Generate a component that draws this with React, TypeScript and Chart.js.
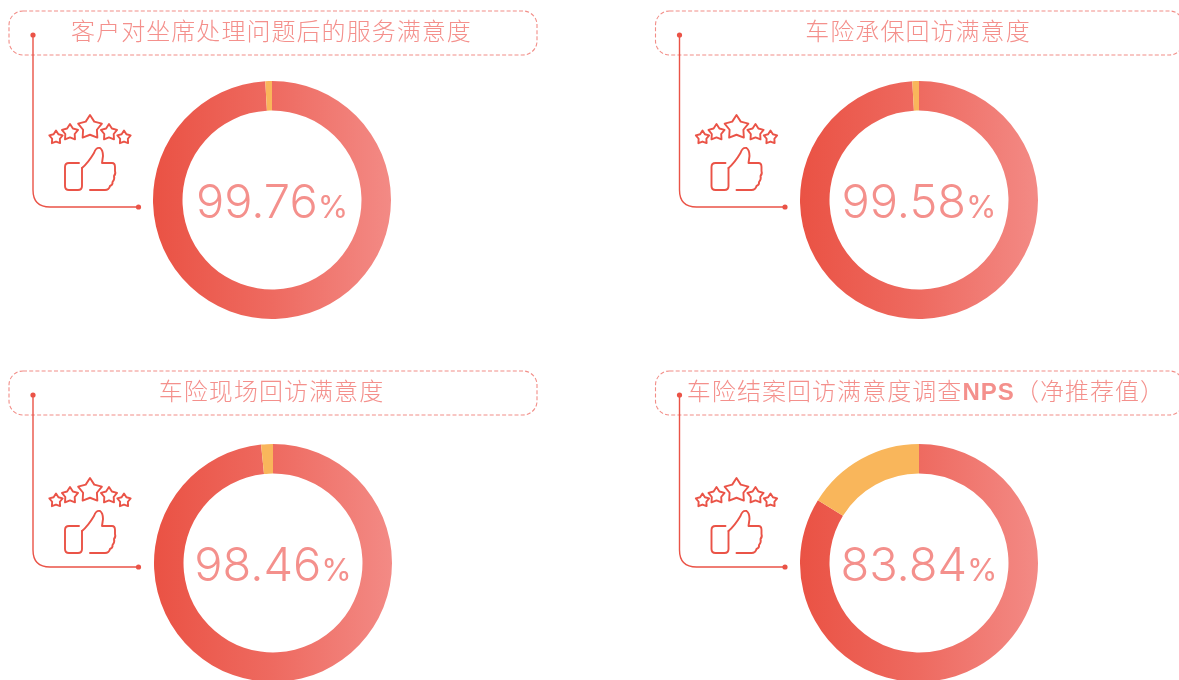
import React, { useEffect, useRef } from "react";
import { Chart, registerables } from "chart.js";

Chart.register(...registerables);

const titles = [
  "客户对坐席处理问题后的服务满意度",
  "车险承保回访满意度",
  "车险现场回访满意度",
  "车险结案回访满意度调查NPS（净推荐值）",
];
const percentLabels = ["99.76", "99.58", "98.46", "83.84"];
// Slice shares as drawn in the picture (small slices are drawn wider than their true share).
const redShare = [99.1, 99.1, 98.4, 83.84];
const orangeShare = [0.9, 0.9, 1.6, 16.16];

const panels = [
  { boxX: 0, boxY: 0, cx: 272, cy: 200, iconDx: 0, iconDy: 0, titleCx: 271.5 },
  { boxX: 646.5, boxY: 0, cx: 919, cy: 200, iconDx: 646.5, iconDy: 0, titleCx: 918 },
  { boxX: 0, boxY: 360, cx: 273, cy: 563, iconDx: 0, iconDy: 363, titleCx: 271.5 },
  { boxX: 646.5, boxY: 360, cx: 919, cy: 563, iconDx: 646.5, iconDy: 363, titleCx: 926 },
];

const RED = "#EA5347";
const PINK = "#F4908C";
const R = 119;

function Donut({ red, orange }: { red: number; orange: number }) {
  const ref = useRef<HTMLCanvasElement>(null);
  useEffect(() => {
    const chart = new Chart(ref.current!, {
      type: "doughnut",
      data: {
        labels: ["满意", "其他"],
        datasets: [
          {
            data: [red, orange],
            borderWidth: 0,
            backgroundColor: (c: any) => {
              if (c.dataIndex === 1) return "#F9B65B";
              const area = c.chart.chartArea;
              if (!area) return RED;
              const g = c.chart.ctx.createLinearGradient(area.left, 0, area.right, 0);
              g.addColorStop(0, "#EA5244");
              g.addColorStop(0.5, "#EE6A60");
              g.addColorStop(1, "#F38A85");
              return g;
            },
          },
        ],
      },
      options: {
        animation: false,
        responsive: false,
        devicePixelRatio: 1,
        cutout: "75.2%",
        layout: { padding: 0 },
        plugins: { legend: { display: false }, tooltip: { enabled: false } },
      },
    });
    return () => chart.destroy();
  }, [red, orange]);
  return <canvas ref={ref} width={R * 2} height={R * 2} style={{ display: "block", width: R * 2, height: R * 2 }} />;
}

function starPath(cx: number, cy: number, r: number) {
  const pts: string[] = [];
  for (let i = 0; i < 10; i++) {
    const a = -Math.PI / 2 + (i * Math.PI) / 5;
    const rr = i % 2 === 0 ? r : r * 0.58;
    pts.push(`${(cx + rr * Math.cos(a)).toFixed(2)},${(cy + rr * Math.sin(a)).toFixed(2)}`);
  }
  return "M" + pts.join("L") + "Z";
}

const stars = [
  [56, 137.5, 7],
  [70, 132.5, 8.5],
  [90, 127.5, 12.5],
  [109, 132.5, 8.5],
  [124, 137.5, 7],
];

function Icon({ dx, dy }: { dx: number; dy: number }) {
  return (
    <g transform={`translate(${dx} ${dy})`} fill="none" stroke={RED} strokeWidth={1.9} strokeLinejoin="round" strokeLinecap="round">
      {stars.map((s, i) => (
        <path key={i} d={starPath(s[0], s[1], s[2])} />
      ))}
      <path d="M79,163 L69,163 Q65,163 65,167 L65,186 Q65,190 69,190 L78,190 Q82,190 82,186 L82,168" />
      <path d="M82,168 Q88,163 94,153 Q96,147 100,148 Q103,150 103,156 L102,163 L112,163 Q115,163 115,167 L115,171 Q116,174 114,176 Q115,179 112.5,182 Q113,185 110,186 Q109,190 105,190 L90,190" />
    </g>
  );
}

function Callout({ x, y }: { x: number; y: number }) {
  return (
    <g transform={`translate(${x} ${y})`}>
      <rect x={9} y={11} width={528} height={44} rx={14} fill="none" stroke="#F28E88" strokeWidth={1.1} strokeDasharray="4 2.2" />
      <path d="M33,35 V190 Q33,207 50,207 H138" fill="none" stroke={RED} strokeWidth={1.4} />
      <circle cx={33} cy={35} r={2.6} fill={RED} />
      <circle cx={138.5} cy={207} r={2.6} fill={RED} />
    </g>
  );
}

function Title({ text }: { text: string }) {
  const m = text.match(/^(.*?)(NPS)(.*)$/);
  if (!m) return <>{text}</>;
  return (
    <>
      {m[1]}
      <span style={{ fontFamily: "'Liberation Sans'", fontWeight: 700 }}>{m[2]}</span>
      {m[3]}
    </>
  );
}

export default function App() {
  return (
    <div style={{ position: "fixed", left: 0, top: 0, width: 1179, height: 680, overflow: "hidden", background: "#fff" }}>
      {panels.map((p, i) => (
        <div key={i} style={{ position: "absolute", left: p.cx - R, top: p.cy - R }}>
          <Donut red={redShare[i]} orange={orangeShare[i]} />
        </div>
      ))}
      <svg width={1179} height={680} style={{ position: "absolute", left: 0, top: 0 }}>
        {panels.map((p, i) => (
          <g key={i}>
            <Callout x={p.boxX} y={p.boxY} />
            <Icon dx={p.iconDx} dy={p.iconDy} />
          </g>
        ))}
      </svg>
      {panels.map((p, i) => (
        <div
          key={"t" + i}
          style={{
            position: "absolute",
            left: p.titleCx - 300,
            width: 600,
            top: p.boxY + 12,
            height: 40,
            lineHeight: "36px",
            textAlign: "center",
            whiteSpace: "nowrap",
            color: PINK,
            fontFamily: "'Noto Sans CJK SC'",
            fontWeight: 300,
            fontSize: 24,
            letterSpacing: 1.05,
          }}
        >
          <Title text={titles[i]} />
        </div>
      ))}
      {panels.map((p, i) => (
        <div
          key={"v" + i}
          style={{
            position: "absolute",
            left: p.cx - 100,
            width: 200,
            top: p.cy - 31,
            height: 64,
            lineHeight: "64px",
            textAlign: "center",
            whiteSpace: "nowrap",
            color: PINK,
            fontFamily: "Inter",
            fontWeight: 300,
            fontSize: 47,
          }}
        >
          {percentLabels[i]}
          <span style={{ fontSize: 31, fontWeight: 400 }}>%</span>
        </div>
      ))}
    </div>
  );
}
